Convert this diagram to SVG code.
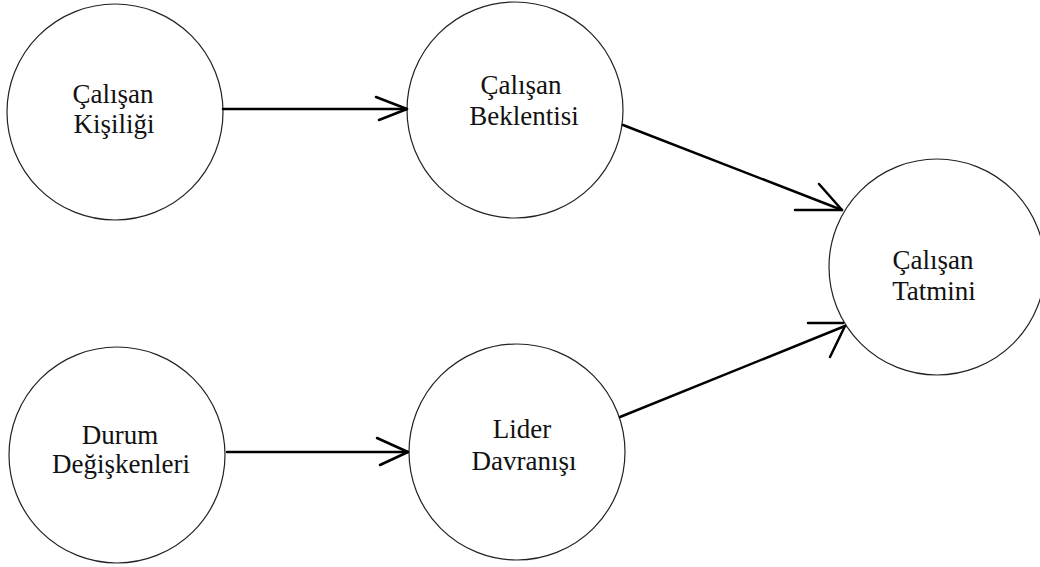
<svg xmlns="http://www.w3.org/2000/svg" width="1040" height="567" viewBox="0 0 1040 567">
  <style>
    .node { fill: #ffffff; stroke: #222222; stroke-width: 1.2; }
    .label { font-family: "Liberation Serif", "Times New Roman", serif; font-size: 27px; fill: #111111; text-anchor: middle; }
    .edge { fill: none; stroke: #000000; stroke-width: 2.5; stroke-linecap: round; stroke-linejoin: round; }
  </style>
  <rect width="1040" height="567" fill="#ffffff"/>

  <g id="node-calisan-kisiligi">
    <circle class="node" cx="115" cy="112" r="108"/>
    <text class="label" x="113" y="103">Çalışan</text>
    <text class="label" x="114" y="133">Kişiliği</text>
  </g>

  <g id="node-calisan-beklentisi">
    <circle class="node" cx="515" cy="110" r="108"/>
    <text class="label" x="521" y="94">Çalışan</text>
    <text class="label" x="524" y="125">Beklentisi</text>
  </g>

  <g id="node-calisan-tatmini">
    <circle class="node" cx="937" cy="267" r="108"/>
    <text class="label" x="933" y="269">Çalışan</text>
    <text class="label" x="934" y="300">Tatmini</text>
  </g>

  <g id="node-durum-degiskenleri">
    <circle class="node" cx="117" cy="455" r="108"/>
    <text class="label" x="120" y="444">Durum</text>
    <text class="label" x="121" y="473">Değişkenleri</text>
  </g>

  <g id="node-lider-davranisi">
    <circle class="node" cx="517" cy="452" r="108"/>
    <text class="label" x="522" y="438">Lider</text>
    <text class="label" x="524" y="470">Davranışı</text>
  </g>

  <g id="connectors">
    <!-- Çalışan Kişiliği -> Çalışan Beklentisi -->
    <path class="edge" d="M223,109 L407,109"/>
    <path class="edge" d="M376,97 L407,109 L379,120"/>
    <!-- Durum Değişkenleri -> Lider Davranışı -->
    <path class="edge" d="M227,452 L408,452"/>
    <path class="edge" d="M377,438 L408,452 L380,465"/>
    <!-- Çalışan Beklentisi -> Çalışan Tatmini -->
    <path class="edge" d="M623,125 L842,210"/>
    <path class="edge" d="M819,184 L842,210 L795,210"/>
    <!-- Lider Davranışı -> Çalışan Tatmini -->
    <path class="edge" d="M620,417 L845,326"/>
    <path class="edge" d="M808,323 L843,323"/>
    <path class="edge" d="M845,326 L830,357"/>
  </g>
</svg>
